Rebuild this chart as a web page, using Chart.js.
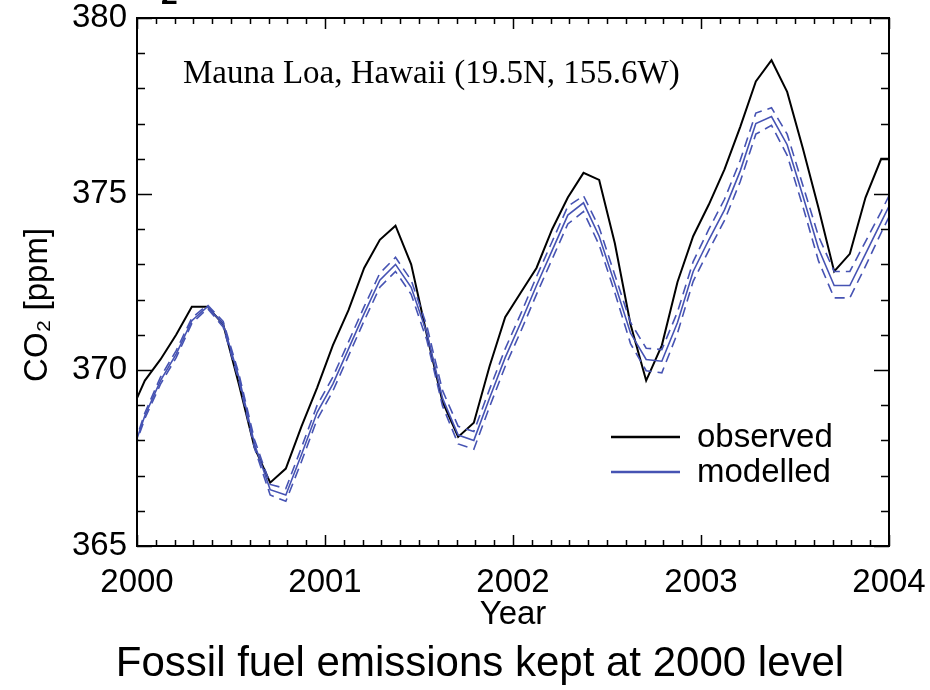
<!DOCTYPE html>
<html>
<head>
<meta charset="utf-8">
<script src="https://cdn.jsdelivr.net/npm/chart.js@4.4.1/dist/chart.umd.min.js"></script>
<style>
  html, body { margin: 0; padding: 0; background: #fff; }
  #wrap { width: 930px; height: 690px; position: relative; }
</style>
</head>
<body>
<div id="wrap"><canvas id="co2Chart"></canvas></div>
<script>
// monthly means Dec 1999 .. Jan 2004 (first and last point get clipped at the frame)
const observed = [368.7,
  369.7, 370.3, 371.0, 371.8, 371.8, 371.3, 369.6, 367.8, 366.8, 367.2, 368.4, 369.5,
  370.7, 371.7, 372.9, 373.7, 374.1, 373.0, 371.0, 369.1, 368.1, 368.5, 370.1, 371.5,
  372.2, 372.9, 374.0, 374.9, 375.6, 375.4, 373.6, 371.3, 369.7, 370.7, 372.5, 373.8,
  374.7, 375.7, 376.9, 378.2, 378.8, 377.9, 376.3, 374.6, 372.8, 373.3, 374.9, 376.0,
  376.0];
const modelled = [367.4,
  368.7, 369.7, 370.45, 371.4, 371.8, 371.3, 369.8, 367.9, 366.6, 366.45, 367.6, 368.8,
  369.6, 370.6, 371.6, 372.55, 373.0, 372.35, 371.05, 369.2, 368.15, 368.0, 369.2, 370.35,
  371.35, 372.4, 373.4, 374.4, 374.75, 373.8, 372.45, 371.05, 370.3, 370.25, 371.35, 372.8,
  373.7, 374.55, 375.65, 377.0, 377.2, 376.4, 374.95, 373.45, 372.4, 372.4, 373.3, 374.2,
  375.1];
const modelledHigh = [367.45,
  368.78, 369.8, 370.55, 371.48, 371.85, 371.38, 369.9, 368.02, 366.75, 366.63, 367.8, 369.0,
  369.8, 370.8, 371.8, 372.75, 373.2, 372.55, 371.25, 369.42, 368.4, 368.25, 369.45, 370.6,
  371.6, 372.65, 373.65, 374.65, 374.95, 374.05, 372.7, 371.35, 370.62, 370.58, 371.65, 373.08,
  374.0, 374.85, 375.95, 377.3, 377.45, 376.7, 375.25, 373.8, 372.8, 372.8, 373.65, 374.5,
  375.4];
const modelledLow = [367.35,
  368.62, 369.6, 370.35, 371.32, 371.75, 371.22, 369.7, 367.78, 366.45, 366.27, 367.4, 368.6,
  369.4, 370.4, 371.4, 372.35, 372.8, 372.15, 370.85, 368.98, 367.9, 367.75, 368.95, 370.1,
  371.1, 372.15, 373.15, 374.15, 374.5, 373.55, 372.2, 370.75, 369.98, 369.92, 371.05, 372.52,
  373.4, 374.25, 375.35, 376.7, 376.95, 376.1, 374.65, 373.1, 372.05, 372.05, 372.95, 373.9,
  374.8];
const yearTicks = [2000, 2001, 2002, 2003, 2004];
const ppmTicks = [365, 370, 375, 380];
const seriesNames = ["observed", "modelled"];
const stationLabel = "Mauna Loa, Hawaii (19.5N, 155.6W)";
const caption = "Fossil fuel emissions kept at 2000 level";

const BLUE = "#4653b3";
const SANS = "'Liberation Sans', Arial, sans-serif";

// mid-month decimal years, starting Dec 1999
const monthTimes = [];
for (let i = 0; i < observed.length; i++) {
  monthTimes.push(1999 + (11 + i + 0.5) / 12);
}
function pts(vals) {
  return vals.map((v, i) => ({ x: monthTimes[i], y: v }));
}

const framePlugin = {
  id: "frame",
  afterDraw(chart) {
    const { ctx, chartArea: a, scales: { x, y } } = chart;
    ctx.save();
    ctx.strokeStyle = "#000";
    ctx.lineWidth = 2;
    ctx.strokeRect(a.left, a.top, a.right - a.left, a.bottom - a.top);

    // inward ticks on all four sides
    ctx.lineWidth = 1.5;
    ctx.beginPath();
    for (let k = 0; k <= 40; k++) {
      const px = Math.round(x.getPixelForValue(yearTicks[0] + k / 10)) + 0.5;
      const len = k % 10 === 0 ? 11 : 6;
      ctx.moveTo(px, a.bottom); ctx.lineTo(px, a.bottom - len);
      ctx.moveTo(px, a.top); ctx.lineTo(px, a.top + len);
    }
    for (let v = ppmTicks[0]; v <= ppmTicks[ppmTicks.length - 1]; v++) {
      const py = Math.round(y.getPixelForValue(v)) + 0.5;
      const len = v % 5 === 0 ? 15 : 8;
      ctx.moveTo(a.left, py); ctx.lineTo(a.left + len, py);
      ctx.moveTo(a.right, py); ctx.lineTo(a.right - len, py);
    }
    ctx.stroke();

    // station label
    ctx.fillStyle = "#000";
    ctx.font = "33px 'Liberation Serif', 'Times New Roman', serif";
    ctx.textBaseline = "alphabetic";
    ctx.textAlign = "left";
    ctx.fillText(stationLabel, a.left + 46, a.top + 65);

    // legend, bottom right
    const colors = ["#000", BLUE];
    ctx.font = "33px " + SANS;
    ctx.textBaseline = "middle";
    seriesNames.forEach((name, i) => {
      const ly = 437 + i * 35;
      ctx.strokeStyle = colors[i];
      ctx.lineWidth = 2.5;
      ctx.beginPath();
      ctx.moveTo(611, ly); ctx.lineTo(680, ly);
      ctx.stroke();
      ctx.fillText(name, 697, ly + 1);
    });

    // caption under the x axis title
    ctx.font = "42px " + SANS;
    ctx.textAlign = "center";
    ctx.fillText(caption, 480, 664);

    // remains of the cut-off title above the frame
    ctx.font = "bold 30px " + SANS;
    ctx.textAlign = "left";
    ctx.textBaseline = "alphabetic";
    ctx.fillText("2", 161, 4);
    ctx.restore();
  }
};

const ctx = document.getElementById("co2Chart").getContext("2d");
new Chart(ctx, {
  type: "line",
  data: {
    datasets: [
      { label: "upper", data: pts(modelledHigh), borderColor: BLUE, borderWidth: 1.6,
        borderDash: [10, 6], pointRadius: 0, tension: 0, clip: 0 },
      { label: "lower", data: pts(modelledLow), borderColor: BLUE, borderWidth: 1.6,
        borderDash: [10, 6], pointRadius: 0, tension: 0, clip: 0 },
      { label: seriesNames[1], data: pts(modelled), borderColor: BLUE, borderWidth: 1.6,
        pointRadius: 0, tension: 0, clip: 0 },
      { label: seriesNames[0], data: pts(observed), borderColor: "#000", borderWidth: 2,
        pointRadius: 0, tension: 0, clip: 0 }
    ]
  },
  options: {
    responsive: true,
    maintainAspectRatio: false,
    animation: false,
    devicePixelRatio: 1,
    layout: { padding: { top: 18, right: 41, left: 0, bottom: 0 } },
    plugins: {
      legend: { display: false },
      tooltip: { enabled: false }
    },
    scales: {
      x: {
        type: "linear",
        min: 2000,
        max: 2004,
        afterBuildTicks: s => { s.ticks = yearTicks.map(v => ({ value: v })); },
        afterFit: s => { s.height = 144; s.paddingLeft = 0; s.paddingRight = 0; },
        grid: { display: false, drawTicks: false },
        border: { display: false },
        ticks: {
          color: "#000",
          padding: 17,
          maxRotation: 0,
          font: { family: SANS, size: 33 },
          callback: v => String(v)
        },
        title: {
          display: true,
          text: "Year",
          color: "#000",
          font: { family: SANS, size: 33 },
          padding: { top: 0, bottom: 55 }
        }
      },
      y: {
        min: 365,
        max: 380,
        afterBuildTicks: s => { s.ticks = ppmTicks.map(v => ({ value: v })); },
        afterFit: s => { s.width = 137; s.paddingTop = 0; s.paddingBottom = 0; },
        grid: { display: false, drawTicks: false },
        border: { display: false },
        ticks: {
          color: "#000",
          padding: 10,
          font: { family: SANS, size: 33 }
        },
        title: {
          display: true,
          text: "CO\u2082 [ppm]     ",
          color: "#000",
          font: { family: SANS, size: 33 },
          padding: { top: 18, bottom: 0 }
        }
      }
    }
  },
  plugins: [framePlugin]
});
</script>
</body>
</html>
